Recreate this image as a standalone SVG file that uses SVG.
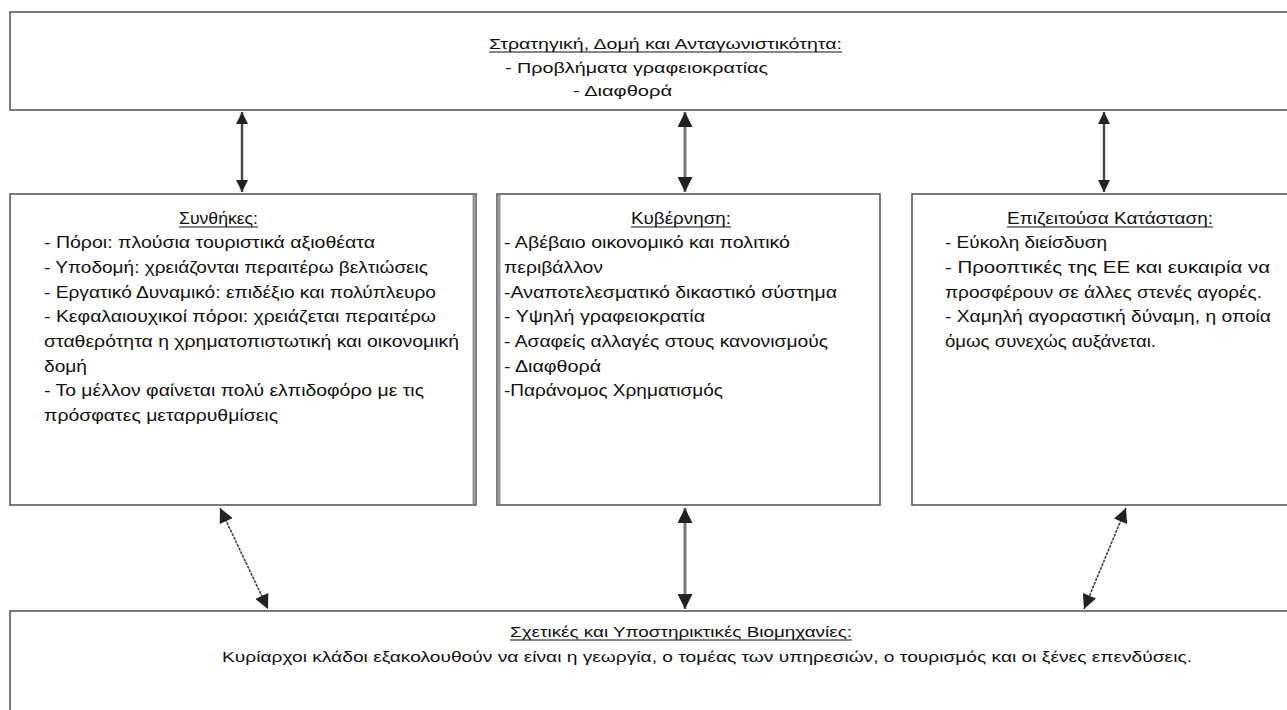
<svg xmlns="http://www.w3.org/2000/svg" width="1287" height="710" viewBox="0 0 1287 710">
<style>
.box{fill:#fff;stroke:#5a5a5a;stroke-width:1.6}
.t{font-family:"Liberation Sans",Arial,sans-serif;font-size:16px;fill:#111}
.s{font-family:"Liberation Sans",Arial,sans-serif;font-size:15px;fill:#111}
.u{stroke:#111;stroke-width:1}
.c{stroke:#444;stroke-width:2.4;fill:none;marker-start:url(#ah);marker-end:url(#ah)}
.cg{stroke:#777;stroke-width:3;fill:none;marker-start:url(#ah);marker-end:url(#ah)}
.cd{stroke:#444;stroke-width:1.6;stroke-dasharray:3 1;fill:none;marker-start:url(#ah2);marker-end:url(#ah2)}
</style>
<defs>
<marker id="ah" viewBox="0 0 10 10" refX="10" refY="5" markerWidth="5.5" markerHeight="5" markerUnits="strokeWidth" orient="auto-start-reverse">
<path d="M0,0 L10,5 L0,10 z" fill="#222"/>
</marker>
<marker id="ah2" viewBox="0 0 10 10" refX="10" refY="5" markerWidth="10" markerHeight="9" markerUnits="strokeWidth" orient="auto-start-reverse">
<path d="M0,0 L10,5 L0,10 z" fill="#222"/>
</marker>
</defs>
<rect width="1287" height="710" fill="#fff"/>

<g id="top">
<rect class="box" x="10" y="12" width="1290" height="98"/>
<text class="s" x="489" y="49" textLength="353" lengthAdjust="spacingAndGlyphs">Στρατηγική, Δομή και Ανταγωνιστικότητα:</text>
<line class="u" x1="489" y1="52" x2="842" y2="52"/>
<text class="s" x="505" y="73" textLength="263" lengthAdjust="spacingAndGlyphs">- Προβλήματα γραφειοκρατίας</text>
<text class="s" x="573" y="96" textLength="99" lengthAdjust="spacingAndGlyphs">- Διαφθορά</text>
</g>

<g id="conditions">
<rect class="box" x="10" y="194" width="466" height="311"/>
<line x1="474" y1="195" x2="474" y2="504" stroke="#999" stroke-width="3"/>
<text class="t" x="179" y="224" textLength="79" lengthAdjust="spacingAndGlyphs">Συνθήκες:</text>
<line class="u" x1="179" y1="227" x2="258" y2="227"/>
<text class="t" x="44" y="248" textLength="331" lengthAdjust="spacingAndGlyphs">- Πόροι: πλούσια τουριστικά αξιοθέατα</text>
<text class="t" x="44" y="273" textLength="384" lengthAdjust="spacingAndGlyphs">- Υποδομή: χρειάζονται περαιτέρω βελτιώσεις</text>
<text class="t" x="44" y="298" textLength="392" lengthAdjust="spacingAndGlyphs">- Εργατικό Δυναμικό: επιδέξιο και πολύπλευρο</text>
<text class="t" x="44" y="322" textLength="392" lengthAdjust="spacingAndGlyphs">- Κεφαλαιουχικοί πόροι: χρειάζεται περαιτέρω</text>
<text class="t" x="44" y="347" textLength="415" lengthAdjust="spacingAndGlyphs">σταθερότητα η χρηματοπιστωτική και οικονομική</text>
<text class="t" x="44" y="372" textLength="43" lengthAdjust="spacingAndGlyphs">δομή</text>
<text class="t" x="44" y="396" textLength="380" lengthAdjust="spacingAndGlyphs">- Το μέλλον φαίνεται πολύ ελπιδοφόρο με τις</text>
<text class="t" x="44" y="421" textLength="234" lengthAdjust="spacingAndGlyphs">πρόσφατες μεταρρυθμίσεις</text>
</g>

<g id="government">
<rect class="box" x="497" y="194" width="383" height="311"/>
<line x1="499" y1="195" x2="499" y2="504" stroke="#999" stroke-width="3"/>
<text class="t" x="631" y="224" textLength="100" lengthAdjust="spacingAndGlyphs">Κυβέρνηση:</text>
<line class="u" x1="631" y1="227" x2="731" y2="227"/>
<text class="t" x="504" y="248" textLength="286" lengthAdjust="spacingAndGlyphs">- Αβέβαιο οικονομικό και πολιτικό</text>
<text class="t" x="504" y="273" textLength="99" lengthAdjust="spacingAndGlyphs">περιβάλλον</text>
<text class="t" x="504" y="298" textLength="333" lengthAdjust="spacingAndGlyphs">-Αναποτελεσματικό δικαστικό σύστημα</text>
<text class="t" x="504" y="322" textLength="201" lengthAdjust="spacingAndGlyphs">- Υψηλή γραφειοκρατία</text>
<text class="t" x="504" y="347" textLength="324" lengthAdjust="spacingAndGlyphs">- Ασαφείς αλλαγές στους κανονισμούς</text>
<text class="t" x="504" y="372" textLength="97" lengthAdjust="spacingAndGlyphs">- Διαφθορά</text>
<text class="t" x="504" y="396" textLength="219" lengthAdjust="spacingAndGlyphs">-Παράνομος Χρηματισμός</text>
</g>

<g id="demand">
<rect class="box" x="912" y="194" width="400" height="311"/>
<text class="t" x="1007" y="224" textLength="206" lengthAdjust="spacingAndGlyphs">Επιζειτούσα Κατάσταση:</text>
<line class="u" x1="1007" y1="227" x2="1213" y2="227"/>
<text class="t" x="945" y="248" textLength="162" lengthAdjust="spacingAndGlyphs">- Εύκολη διείσδυση</text>
<text class="t" x="945" y="273" textLength="325" lengthAdjust="spacingAndGlyphs">- Προοπτικές της ΕΕ και ευκαιρία να</text>
<text class="t" x="945" y="298" textLength="317" lengthAdjust="spacingAndGlyphs">προσφέρουν σε άλλες στενές αγορές.</text>
<text class="t" x="945" y="322" textLength="326" lengthAdjust="spacingAndGlyphs">- Χαμηλή αγοραστική δύναμη, η οποία</text>
<text class="t" x="945" y="347" textLength="211" lengthAdjust="spacingAndGlyphs">όμως συνεχώς αυξάνεται.</text>
</g>

<g id="industries">
<rect class="box" x="10" y="611" width="1290" height="110"/>
<text class="s" x="510" y="637" textLength="342" lengthAdjust="spacingAndGlyphs">Σχετικές και Υποστηρικτικές Βιομηχανίες:</text>
<line class="u" x1="510" y1="640" x2="852" y2="640"/>
<text class="s" x="222" y="662" textLength="970" lengthAdjust="spacingAndGlyphs">Κυρίαρχοι κλάδοι εξακολουθούν να είναι η γεωργία, ο τομέας των υπηρεσιών, ο τουρισμός και οι ξένες επενδύσεις.</text>
</g>

<g id="connectors">
<line class="c" x1="242" y1="112" x2="242" y2="192"/>
<line class="cg" x1="685" y1="112" x2="685" y2="192"/>
<line class="c" x1="1104" y1="112" x2="1104" y2="192"/>
<line class="cd" x1="220" y1="508" x2="268" y2="609"/>
<line class="cg" x1="685" y1="508" x2="685" y2="609"/>
<line class="cd" x1="1126" y1="508" x2="1084" y2="609"/>
</g>
</svg>
